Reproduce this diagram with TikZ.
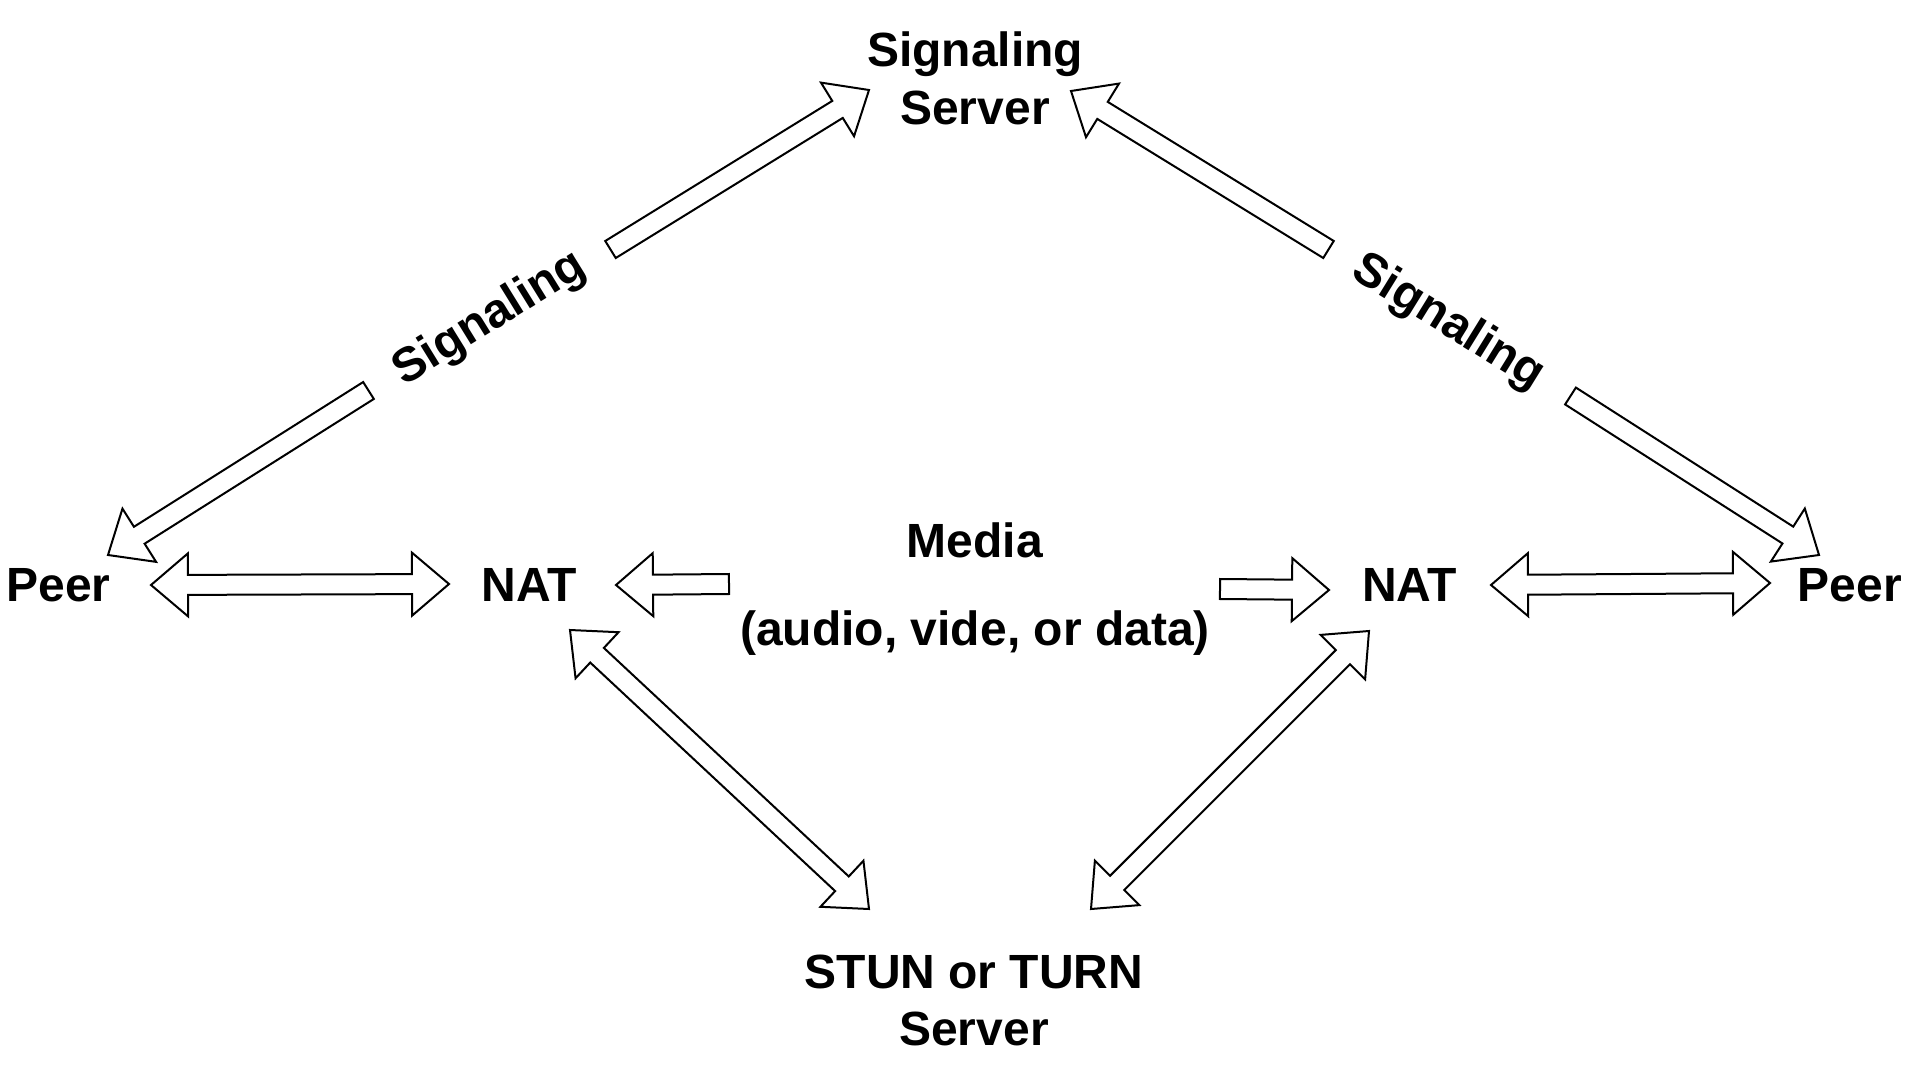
\documentclass[tikz,border=0pt]{standalone}
\usepackage{fontspec}
\setmainfont{Liberation Sans}
\usetikzlibrary{calc}
\def\shw{5pt}
\def\hhw{15.75pt}
\def\hlen{18.5pt}
\tikzset{
  blockarrow/.style={draw=black, fill=white, line width=1pt, miter limit=10},
  lbl/.style={font=\bfseries\fontsize{24}{28.75}\selectfont, inner sep=0pt, align=center},
}
\newcommand\sarrow[2]{%
  \draw[blockarrow] let \p1=($(#2)-(#1)$), \n1={atan2(\y1,\x1)} in
    ($(#1)+(\n1+90:\shw)$)
    -- ($(#2)+(\n1+180:\hlen)+(\n1+90:\shw)$)
    -- ($(#2)+(\n1+180:\hlen)+(\n1+90:\hhw)$)
    -- (#2)
    -- ($(#2)+(\n1+180:\hlen)+(\n1-90:\hhw)$)
    -- ($(#2)+(\n1+180:\hlen)+(\n1-90:\shw)$)
    -- ($(#1)+(\n1-90:\shw)$) -- cycle;}
\newcommand\darrow[2]{%
  \draw[blockarrow] let \p1=($(#2)-(#1)$), \n1={atan2(\y1,\x1)} in
    ($(#1)+(\n1:\hlen)+(\n1+90:\shw)$)
    -- ($(#2)+(\n1+180:\hlen)+(\n1+90:\shw)$)
    -- ($(#2)+(\n1+180:\hlen)+(\n1+90:\hhw)$)
    -- (#2)
    -- ($(#2)+(\n1+180:\hlen)+(\n1-90:\hhw)$)
    -- ($(#2)+(\n1+180:\hlen)+(\n1-90:\shw)$)
    -- ($(#1)+(\n1:\hlen)+(\n1-90:\shw)$)
    -- ($(#1)+(\n1:\hlen)+(\n1-90:\hhw)$)
    -- (#1)
    -- ($(#1)+(\n1:\hlen)+(\n1+90:\hhw)$) -- cycle;}
\begin{document}
\begin{tikzpicture}[x=0.5pt, y=-0.5pt]
\useasboundingbox[fill=white] (0,0) rectangle (1927,1075);

% text nodes
\node[lbl] (sig) at (975,78.5) {Signaling\\Server};
\node[lbl, anchor=base] (peerL) at (58.5,601) {Peer};
\node[lbl, anchor=base] (natL) at (529.5,601) {NAT};
\node[lbl, anchor=base] (natR) at (1409.6,601) {NAT};
\node[lbl, anchor=base] (peerR) at (1850,601) {Peer};
\node[lbl, anchor=base] (media) at (975,557) {Media};
\node[lbl, anchor=base] (mediasub) at (975,645) {(audio, vide, or data)};
\node[lbl] (stun) at (974,1000.5) {STUN or TURN\\Server};
\node[lbl, rotate=31.7] (sigtxtL) at (490,319) {Signaling};
\node[lbl, rotate=-31.7] (sigtxtR) at (1448,323) {Signaling};

% arrow end points
\coordinate (aL1s) at (610.5,249.5);
\coordinate (aL1e) at (869,90);
\coordinate (aL2s) at (368.5,390.5);
\coordinate (aL2e) at (108,555);
\coordinate (aR1s) at (1328.5,249.5);
\coordinate (aR1e) at (1071,91);
\coordinate (aR2s) at (1570.5,396);
\coordinate (aR2e) at (1819,555);
\coordinate (hLs) at (151,585);
\coordinate (hLe) at (449,584);
\coordinate (hRs) at (1491,585);
\coordinate (hRe) at (1770,583);
\coordinate (mLs) at (729,584);
\coordinate (mLe) at (616,585);
\coordinate (mRs) at (1220,589);
\coordinate (mRe) at (1329,590);
\coordinate (dLs) at (570,630);
\coordinate (dLe) at (869,909);
\coordinate (dRs) at (1369,631);
\coordinate (dRe) at (1091,909);

% block arrows
\sarrow{aL1s}{aL1e}
\sarrow{aL2s}{aL2e}
\sarrow{aR1s}{aR1e}
\sarrow{aR2s}{aR2e}
\darrow{hLs}{hLe}
\darrow{hRs}{hRe}
\sarrow{mLs}{mLe}
\sarrow{mRs}{mRe}
\darrow{dLs}{dLe}
\darrow{dRs}{dRe}
\end{tikzpicture}
\end{document}
